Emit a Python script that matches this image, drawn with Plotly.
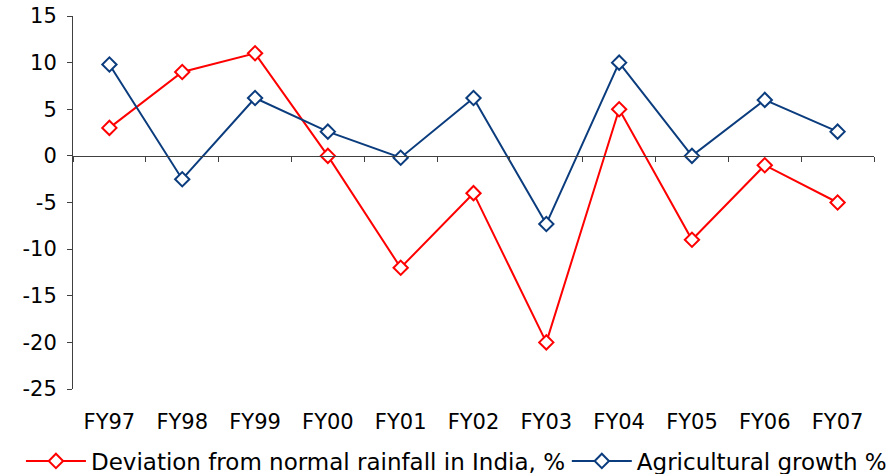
import plotly.graph_objects as go

categories = ["FY97", "FY98", "FY99", "FY00", "FY01", "FY02", "FY03", "FY04", "FY05", "FY06", "FY07"]
rainfall_dev = [3, 9, 11, 0, -12, -4, -20, 5, -9, -1, -5]
agri_growth = [9.8, -2.5, 6.2, 2.6, -0.2, 6.2, -7.3, 10.0, 0.0, 6.0, 2.6]
y_ticks = [-25, -20, -15, -10, -5, 0, 5, 10, 15]
y_tick_text = [str(v) for v in y_ticks]

RED = "#FF0000"
BLUE = "#0B3C7D"
AXIS = "#404040"
FONT = "DejaVu Sans"

fig = go.Figure()
fig.add_trace(go.Scatter(
    x=categories, y=rainfall_dev, mode="lines+markers",
    name="Deviation from normal rainfall in India, %",
    line=dict(color=RED, width=2),
    marker=dict(symbol="diamond", size=11, color="white", line=dict(color=RED, width=2)),
    legend="legend",
))
fig.add_trace(go.Scatter(
    x=categories, y=agri_growth, mode="lines+markers",
    name="Agricultural growth %",
    line=dict(color=BLUE, width=2),
    marker=dict(symbol="diamond", size=11, color="white", line=dict(color=BLUE, width=2)),
    legend="legend2",
))
# invisible trace to host the zero-crossing category axis
fig.add_trace(go.Scatter(x=[0], y=[0], xaxis="x2", mode="markers",
                         marker=dict(opacity=0), showlegend=False, hoverinfo="skip"))

legend_common = dict(orientation="h", yanchor="middle", y=-0.193, xanchor="left",
                     font=dict(family=FONT, size=23, color="#000000"),
                     bgcolor="rgba(0,0,0,0)", borderwidth=0, itemwidth=60)

fig.update_layout(
    width=894, height=474,
    margin=dict(l=73, r=20, t=16, b=85, autoexpand=False),
    paper_bgcolor="white", plot_bgcolor="white",
    font=dict(family=FONT, size=21, color="#000000"),
    showlegend=True,
    legend=dict(x=-0.065, **legend_common),
    legend2=dict(x=0.6165, **legend_common),
    xaxis=dict(
        type="category", categoryorder="array", categoryarray=categories,
        range=[-0.5, len(categories) - 0.5],
        showline=False, showgrid=False, zeroline=False, ticks="",
        ticklabelstandoff=18, tickfont=dict(family=FONT, size=21),
    ),
    xaxis2=dict(
        overlaying="x", anchor="free", position=25 / 40,
        range=[-0.5, len(categories) - 0.5],
        tickmode="linear", tick0=-0.5, dtick=1,
        showline=True, linecolor=AXIS, linewidth=1,
        ticks="outside", ticklen=5, tickcolor=AXIS, tickwidth=1,
        showticklabels=False, showgrid=False, zeroline=False,
    ),
    yaxis=dict(
        range=[-25, 15], tickvals=y_ticks, ticktext=y_tick_text,
        showline=True, linecolor=AXIS, linewidth=1,
        ticks="outside", ticklen=5, tickcolor=AXIS,
        showgrid=False, zeroline=False,
        tickfont=dict(family=FONT, size=21), ticklabelstandoff=6,
    ),
)

fig.write_html("out.html")
